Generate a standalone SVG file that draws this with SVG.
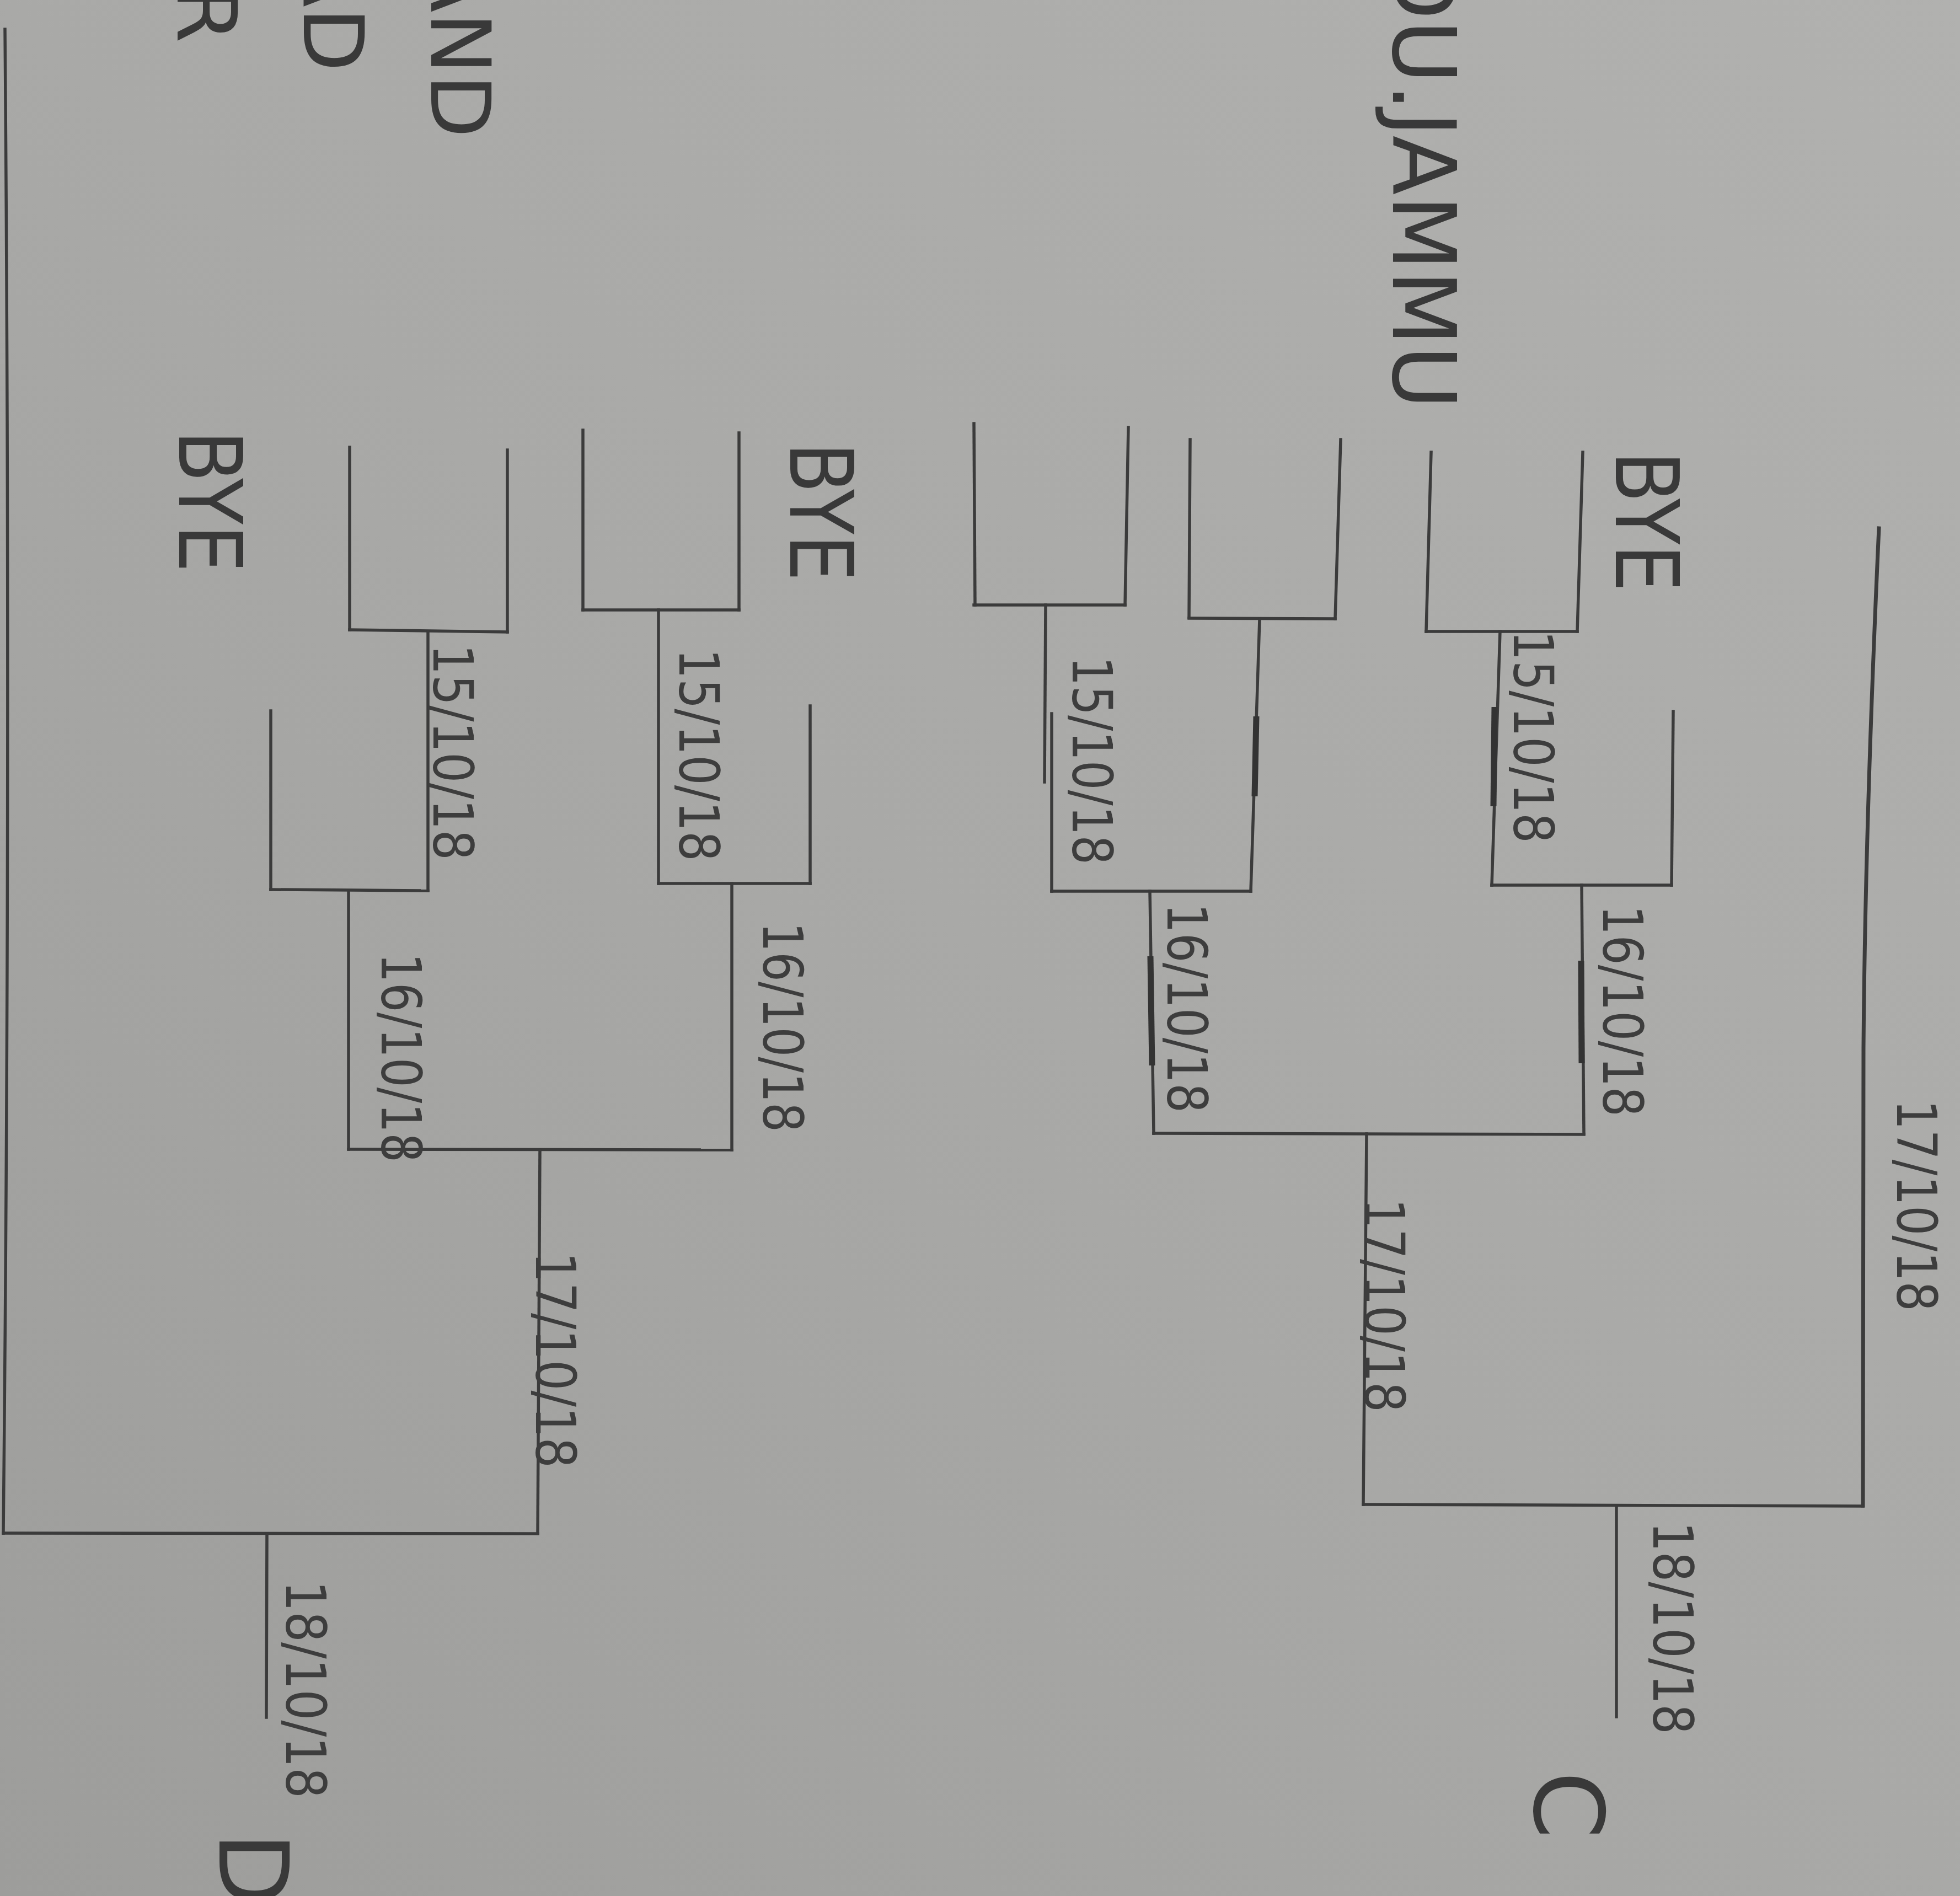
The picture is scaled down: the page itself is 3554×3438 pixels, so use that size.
<svg xmlns="http://www.w3.org/2000/svg" width="3554" height="3438" viewBox="0 0 3554 3438">
<defs>
<linearGradient id="paper" x1="1" y1="0" x2="0" y2="1">
<stop offset="0" stop-color="#b1b1af"/>
<stop offset="0.5" stop-color="#a9a9a7"/>
<stop offset="1" stop-color="#9d9d9b"/>
</linearGradient>
<style>
.ln{stroke:#3b3b3b;stroke-width:5.5;fill:none;stroke-linecap:square}
.thick{stroke:#333333;stroke-width:11;fill:none}
.dt{font-family:"DejaVu Sans","Liberation Sans",sans-serif;font-size:100px;fill:#3d3d3d}
.nm{font-family:"DejaVu Sans","Liberation Sans",sans-serif;font-size:158px;fill:#393939}
.big{font-family:"DejaVu Sans","Liberation Sans",sans-serif;font-size:175px;fill:#393939}
</style>
</defs>
<rect width="3554" height="3438" fill="url(#paper)"/>

<!-- edge texts cut off at top -->
<g id="edge-text">
<text class="nm" style="font-size:150px" text-anchor="end" transform="translate(782,250) rotate(90)">AND</text>
<text class="nm" style="font-size:152px" text-anchor="end" transform="translate(551,130) rotate(90)">AD</text>
<text class="nm" style="font-size:150px" text-anchor="end" transform="translate(322,78) rotate(90)">R</text>
</g>

<!-- player slots (nodes) -->
<g id="slot-dujammu"><line class="ln" x1="2595" y1="820" x2="2586" y2="1145"/><text class="nm" text-anchor="end" transform="translate(2526,742) rotate(90)">DU.JAMMU</text></g>
<g id="slot-bye-c"><line class="ln" x1="2870" y1="820" x2="2860" y2="1145"/><text class="nm" textLength="255" lengthAdjust="spacingAndGlyphs" transform="translate(2930,818) rotate(90)">BYE</text></g>
<g id="slot-c3"><line class="ln" x1="3034" y1="1290" x2="3031" y2="1605"/></g>
<g id="slot-b1a"><line class="ln" x1="1766" y1="768" x2="1768" y2="1097"/></g>
<g id="slot-b1b"><line class="ln" x1="2046" y1="775" x2="2040" y2="1097"/></g>
<g id="slot-b2a"><line class="ln" x1="2158" y1="797" x2="2156" y2="1120"/></g>
<g id="slot-b2b"><line class="ln" x1="2431" y1="797" x2="2421" y2="1122"/></g>
<g id="slot-d1a"><line class="ln" x1="1057" y1="780" x2="1057" y2="1106"/></g>
<g id="slot-d1b"><line class="ln" x1="1340" y1="785" x2="1340" y2="1106"/></g>
<g id="slot-d1c"><line class="ln" x1="1469" y1="1280" x2="1469" y2="1602"/><text class="nm" textLength="252" lengthAdjust="spacingAndGlyphs" transform="translate(1433,802) rotate(90)">BYE</text></g>
<g id="slot-d2a"><line class="ln" x1="634" y1="811" x2="634" y2="1142"/></g>
<g id="slot-d2b"><line class="ln" x1="920" y1="816" x2="920" y2="1146"/></g>
<g id="slot-d2c"><line class="ln" x1="491" y1="1289" x2="491" y2="1613"/><text class="nm" textLength="258" lengthAdjust="spacingAndGlyphs" transform="translate(325,780) rotate(90)">BYE</text></g>
<g id="final-c"><path class="ln" style="stroke-width:7" d="M3407,958 Q3382,1500 3379,1900 L3378,2730"/><text class="big" transform="translate(2782,3212) rotate(90)">C</text></g>
<g id="final-d"><path class="ln" d="M9,53 Q20,1400 6,2780"/><text class="big" transform="translate(398,3322) rotate(90)">D</text></g>

<!-- connectors -->
<g id="connectors">
<line class="ln" x1="2586" y1="1145" x2="2860" y2="1145"/>
<line class="ln" x1="2720" y1="1145" x2="2705" y2="1605"/>
<line class="thick" x1="2710" y1="1282" x2="2708" y2="1462"/>
<line class="ln" x1="2705" y1="1605" x2="3031" y2="1605"/>
<line class="ln" x1="2868" y1="1605" x2="2872" y2="2056"/>
<line class="thick" x1="2867" y1="1742" x2="2868" y2="1928"/>

<line class="ln" x1="1766" y1="1097" x2="2040" y2="1097"/>
<line class="ln" x1="1896" y1="1097" x2="1894" y2="1418"/>
<line class="ln" x1="1907" y1="1294" x2="1907" y2="1616"/>
<line class="ln" x1="2156" y1="1121" x2="2421" y2="1122"/>
<line class="ln" x1="2284" y1="1122" x2="2268" y2="1616"/>
<line class="thick" x1="2278" y1="1299" x2="2275" y2="1444"/>
<line class="ln" x1="1907" y1="1616" x2="2268" y2="1616"/>
<line class="ln" x1="2085" y1="1616" x2="2092" y2="2055"/>
<line class="thick" x1="2086" y1="1734" x2="2089" y2="1932"/>
<line class="ln" x1="2092" y1="2055" x2="2872" y2="2057"/>
<line class="ln" x1="2478" y1="2056" x2="2472" y2="2728"/>
<line class="ln" x1="2472" y1="2728" x2="3378" y2="2731"/>
<line class="ln" x1="2931" y1="2730" x2="2931" y2="3113"/>

<line class="ln" x1="1057" y1="1106" x2="1340" y2="1106"/>
<line class="ln" x1="1194" y1="1106" x2="1194" y2="1602"/>
<line class="ln" x1="1194" y1="1602" x2="1469" y2="1602"/>
<line class="ln" x1="1327" y1="1602" x2="1327" y2="2085"/>
<line class="ln" x1="634" y1="1142" x2="920" y2="1146"/>
<line class="ln" x1="776" y1="1145" x2="776" y2="1615"/>
<line class="ln" x1="491" y1="1613" x2="776" y2="1615"/>
<line class="ln" x1="632" y1="1615" x2="632" y2="2084"/>
<line class="ln" x1="632" y1="2084" x2="1327" y2="2085"/>
<line class="ln" x1="979" y1="2085" x2="975" y2="2780"/>
<line class="ln" x1="6" y1="2780" x2="975" y2="2781"/>
<line class="ln" x1="484" y1="2781" x2="483" y2="3114"/>
</g>

<!-- match dates -->
<g id="dates">
<text class="dt" textLength="386" lengthAdjust="spacingAndGlyphs" transform="translate(2745,1143) rotate(90)">15/10/18</text>
<text class="dt" textLength="384" lengthAdjust="spacingAndGlyphs" transform="translate(2907,1641) rotate(90)">16/10/18</text>
<text class="dt" textLength="378" lengthAdjust="spacingAndGlyphs" transform="translate(1945,1190) rotate(90)">15/10/18</text>
<text class="dt" textLength="380" lengthAdjust="spacingAndGlyphs" transform="translate(2117,1638) rotate(90)">16/10/18</text>
<text class="dt" textLength="388" lengthAdjust="spacingAndGlyphs" transform="translate(2475,2173) rotate(90)">17/10/18</text>
<text class="dt" textLength="384" lengthAdjust="spacingAndGlyphs" transform="translate(3440,1994) rotate(90)">17/10/18</text>
<text class="dt" textLength="386" lengthAdjust="spacingAndGlyphs" transform="translate(2998,2759) rotate(90)">18/10/18</text>
<text class="dt" textLength="386" lengthAdjust="spacingAndGlyphs" transform="translate(1232,1176) rotate(90)">15/10/18</text>
<text class="dt" textLength="381" lengthAdjust="spacingAndGlyphs" transform="translate(1384,1672) rotate(90)">16/10/18</text>
<text class="dt" textLength="392" lengthAdjust="spacingAndGlyphs" transform="translate(786,1168) rotate(90)">15/10/18</text>
<text class="dt" textLength="380" lengthAdjust="spacingAndGlyphs" transform="translate(692,1728) rotate(90)">16/10/18</text>
<text class="dt" textLength="392" lengthAdjust="spacingAndGlyphs" transform="translate(972,2270) rotate(90)">17/10/18</text>
<text class="dt" textLength="395" lengthAdjust="spacingAndGlyphs" transform="translate(519,2866) rotate(90)">18/10/18</text>
</g>
</svg>
